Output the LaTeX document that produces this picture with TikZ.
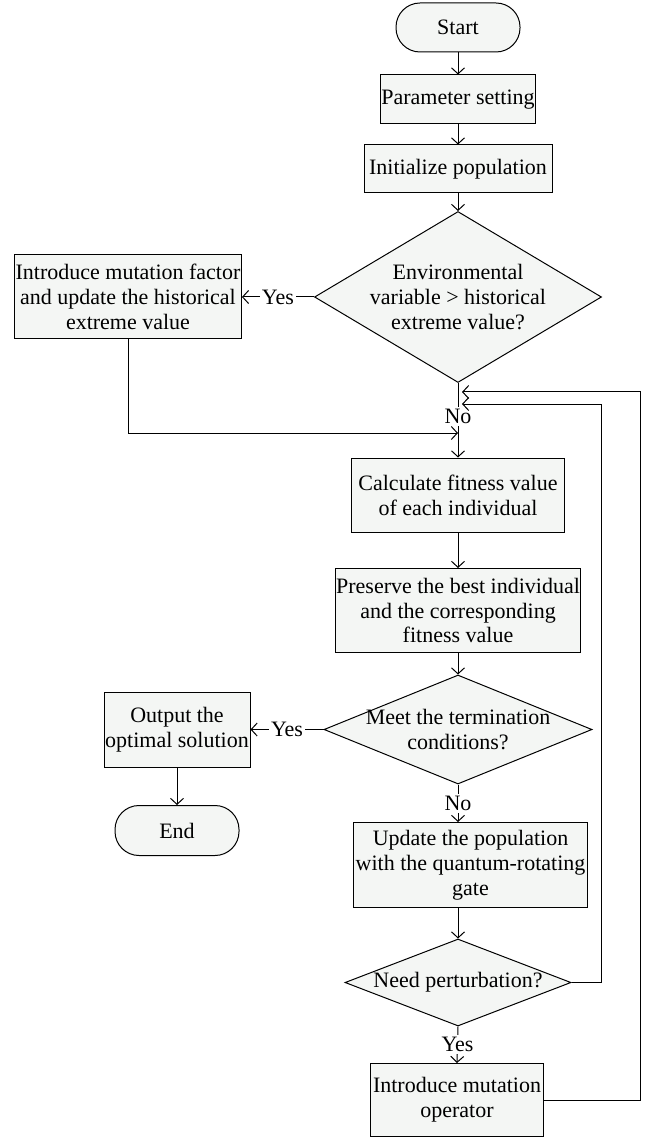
\documentclass[tikz,border=0pt]{standalone}
\usepackage{fontspec}
\setmainfont{Liberation Serif}
\usetikzlibrary{shapes.geometric,arrows.meta}
\definecolor{boxfill}{RGB}{244,246,244}

\begin{document}
\begin{tikzpicture}[x=0.5pt,y=-0.5pt,line width=0.5pt,
  font=\fontsize{11}{12.4}\selectfont,
  box/.style={draw,fill=boxfill,align=center,inner sep=0.5pt},
  term/.style={box,rounded corners=12pt},
  dec/.style={diamond,draw,fill=boxfill,inner sep=0pt},
  lab/.style={fill=white,inner sep=1pt},
  >={Straight Barb[length=3pt,width=6.5pt]}]
\useasboundingbox (0,0) rectangle (647,1138);
%\draw[help lines] (0,0) grid (647,1138);
\node[term,minimum width=62pt,minimum height=24.5pt] (start) at (458,27.5) {Start};
\node[box,minimum width=77.5pt,minimum height=24.5pt] (param) at (458,99.5) {Parameter setting};
\node[box,minimum width=94pt,minimum height=24pt] (init) at (458,169) {Initialize population};
\node[dec,minimum width=143.5pt,minimum height=85.5pt,
  label={[align=center]center:Environmental\\variable > historical\\extreme value?}] (envd) at (458,297) {};
\node[box,minimum width=112.5pt,minimum height=42pt] (mutf) at (128,297)
  {Introduce mutation factor\\and update the historical\\extreme value};
\node[box,minimum width=106.5pt,minimum height=37pt] (calc) at (458,495)
  {Calculate fitness value\\of each individual};
\node[box,minimum width=121pt,minimum height=42pt] (pres) at (458,610.5)
  {Preserve the best individual\\and the corresponding\\fitness value};
\node[dec,minimum width=134pt,minimum height=54.5pt,
  label={[align=center]center:Meet the termination\\conditions?}] (meet) at (458,729.5) {};
\node[box,minimum width=73pt,minimum height=37.5pt] (outp) at (177,729.5)
  {Output the\\optimal solution};
\node[term,minimum width=62pt,minimum height=25pt] (endn) at (177,830.5) {End};
\node[box,minimum width=117pt,minimum height=42.5pt] (upd) at (470.5,865)
  {Update the population\\with the quantum-rotating\\gate};
\node[dec,minimum width=113pt,minimum height=43.5pt,
  label={center:Need perturbation?}] (pert) at (458,982.5) {};
\node[box,minimum width=86.5pt,minimum height=36.5pt] (mutop) at (457,1100)
  {Introduce mutation\\operator};

\coordinate (jn) at (458,433);
\coordinate (r1) at (601,404);
\coordinate (t1) at (462,404);
\coordinate (r2) at (640,392);
\coordinate (t2) at (462,392);

\draw[->] (start) -- (param);
\draw[->] (param) -- (init);
\draw[->] (init) -- (envd);
\draw[->] (envd.west) -- node[lab]{Yes} (mutf.east);
\draw[->] (envd.south) -- node[lab,pos=0.45]{No} (calc.north);
\draw[->] (mutf.south) |- (jn);
\draw[->] (calc) -- (pres);
\draw[->] (pres) -- (meet);
\draw[->] (meet.west) -- node[lab]{Yes} (outp.east);
\draw[->] (outp) -- (endn);
\draw[->] (meet.south) -- node[lab]{No} (meet.south |- upd.north);
\draw[->] (pert.north |- upd.south) -- (pert.north);
\draw[->] (pert.south) -- node[lab]{Yes} (mutop.north);
\draw[->] (pert.east) -| (r1) -- (t1);
\draw[->] (mutop.east) -| (r2) -- (t2);
\end{tikzpicture}
\end{document}
